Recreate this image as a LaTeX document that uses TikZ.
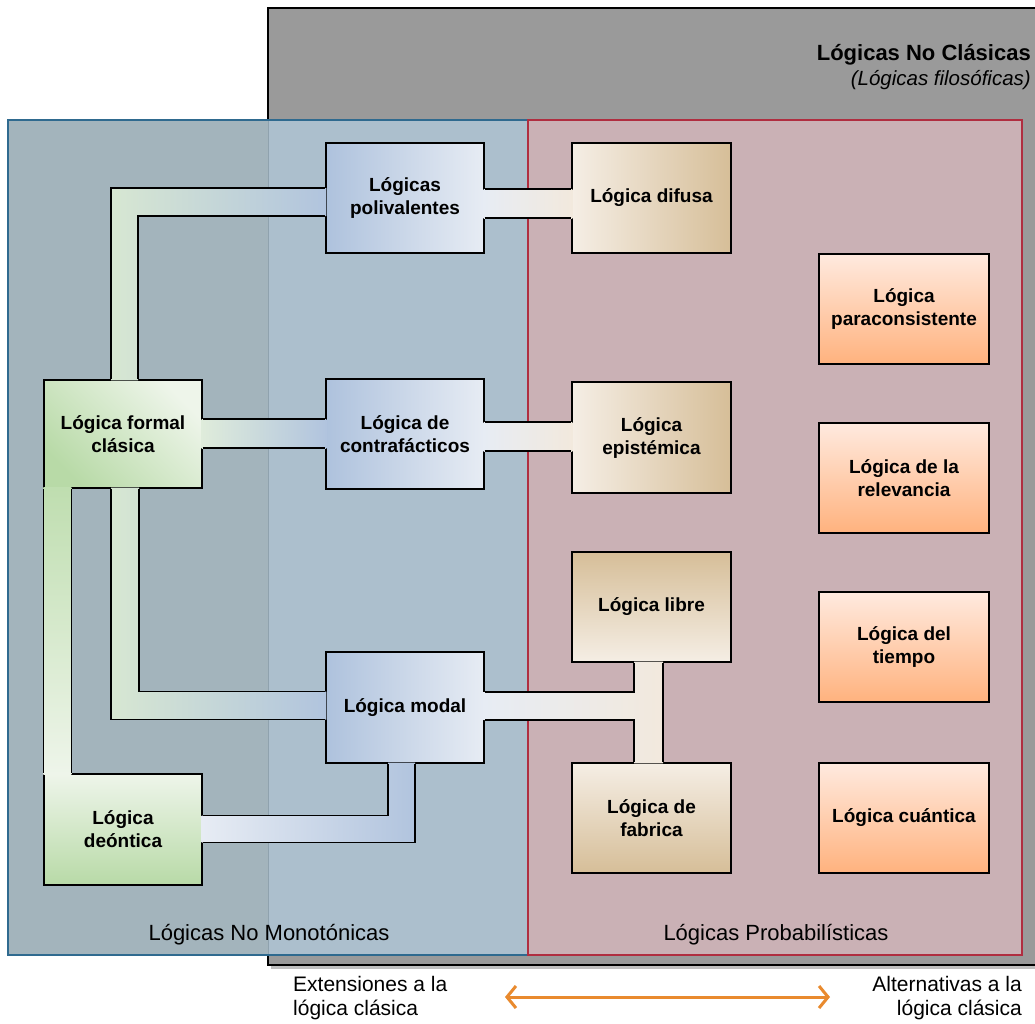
\documentclass[tikz,border=0pt]{standalone}
\usepackage{fontspec}
\setmainfont{Liberation Sans}
\usetikzlibrary{calc,arrows.meta}
\definecolor{grayBg}{HTML}{9A9A9A}
\definecolor{blueBgL}{HTML}{A3B4BC}
\definecolor{blueBgR}{HTML}{ACBFCD}
\definecolor{blueLine}{HTML}{8FA2AE}
\definecolor{blueEdge}{HTML}{2F6A8F}
\definecolor{redBg}{HTML}{CAB1B5}
\definecolor{redEdge}{HTML}{B02E40}
\definecolor{gLight}{HTML}{EEF5EA}
\definecolor{gDark}{HTML}{B8DAA7}
\definecolor{gBand}{HTML}{D7E7D2}
\definecolor{bBlue}{HTML}{AEC2DD}
\definecolor{bLight}{HTML}{E7ECF4}
\definecolor{bBand}{HTML}{B1C4DE}
\definecolor{tLight}{HTML}{F5EEE5}
\definecolor{tDark}{HTML}{D6BE98}
\definecolor{tBand}{HTML}{F2E9DD}
\definecolor{oLight}{HTML}{FFEADF}
\definecolor{oDark}{HTML}{FFB27E}
\definecolor{arrowOr}{HTML}{E98A2E}
\begin{document}
\begin{tikzpicture}[x=1pt,y=-1pt,
  box/.style={draw=black, line width=1.3pt, minimum width=158pt, minimum height=110pt, inner sep=2pt, align=center, font=\fontsize{19}{23}\selectfont\bfseries},
  wbox/.style={box, minimum width=170pt},
  greenbox/.style={box, top color=gLight, bottom color=gDark},
  bluebox/.style={box, left color=bBlue, right color=bLight},
  tanLR/.style={box, left color=tLight, right color=tDark, minimum width=159pt},
  tanTop/.style={box, top color=tDark, bottom color=tLight, minimum width=159pt},
  tanBot/.style={box, top color=tLight, bottom color=tDark, minimum width=159pt},
  orbox/.style={wbox, top color=oLight, bottom color=oDark},
  edgeline/.style={draw=black, line width=1.3pt},
  lbl/.style={inner sep=0pt, font=\fontsize{21}{24}\selectfont},
  grouplbl/.style={inner sep=0pt, font=\fontsize{22}{26}\selectfont}
]
\useasboundingbox (0,0) rectangle (1035,1023);
\clip (0,0) rectangle (1035,1023);
\fill[white] (0,0) rectangle (1035,1023);

% containers
\fill[black, opacity=0.25] (271,12) rectangle (1045,969);
\fill[grayBg] (268,8) rectangle (1045,965);
\draw[black, line width=1.5pt] (1045,8) -- (268,8) -- (268,965) -- (1045,965);
\fill[blueBgL] (8,120) rectangle (528,955);
\fill[blueBgR] (268,120) rectangle (528,955);
\draw[blueLine, line width=1pt] (268,120) -- (268,955);
\draw[blueEdge, line width=1.5pt] (8,120) rectangle (528,955);
\fill[redBg] (528,120) rectangle (1022,955);
\draw[redEdge, line width=1.5pt] (528,120) rectangle (1022,955);

% titles
\node[inner sep=0pt, anchor=east, font=\fontsize{22}{26}\selectfont\bfseries] (title) at (1031,55) {Lógicas No Clásicas};
\node[inner sep=0pt, anchor=east, font=\fontsize{20.5}{24}\selectfont\itshape] (subtitle) at (1031,80) {(Lógicas filosóficas)};
\node[grouplbl] (nomono) at (269,935) {Lógicas No Monotónicas};
\node[grouplbl] (proba) at (776,935) {Lógicas Probabilísticas};

% boxes
\node[bluebox] (poli) at (405,198) {Lógicas\\polivalentes};
\node[tanLR] (difusa) at (651.5,198) {Lógica difusa};
\node[orbox] (para) at (904,309) {Lógica\\paraconsistente};
\node[greenbox, shading angle=-45, minimum height=108pt] (formal) at (123,434) {Lógica formal\\clásica};
\node[bluebox] (contra) at (405,434) {Lógica de\\contrafácticos};
\node[tanLR, minimum height=111pt] (epist) at (651.5,437.5) {Lógica\\epistémica};
\node[orbox] (relev) at (904,478) {Lógica de la\\relevancia};
\node[tanTop] (libre) at (651.5,607) {Lógica libre};
\node[bluebox, minimum height=111pt] (modal) at (405,707.5) {Lógica modal};
\node[orbox] (tiempo) at (904,647) {Lógica del\\tiempo};
\node[tanBot] (fabrica) at (651.5,818) {Lógica de\\fabrica};
\node[orbox] (cuantica) at (904,818) {Lógica cuántica};
\node[greenbox, minimum height=111pt] (deontica) at (123,829.5) {Lógica\\deóntica};

% connector formal -> poli
\fill[left color=gBand, right color=bBand] ($(formal.north)+(-12,1)$) |- ($(poli.west)+(1,-10)$) -- ($(poli.west)+(1,18)$) -| ($(formal.north)+(15,1)$) -- cycle;
\draw[edgeline] ($(formal.north)+(-12,0)$) |- ($(poli.west)+(0,-10)$);
\draw[edgeline] ($(poli.west)+(0,18)$) -| ($(formal.north)+(15,0)$);

% connector formal -> contra
\fill[left color=gBand!80!white, right color=bBand] ($(formal.east)+(-1,-15)$) rectangle ($(contra.west)+(1,14)$);
\draw[edgeline] ($(formal.east)+(0,-15)$) -- ($(contra.west)+(0,-15)$);
\draw[edgeline] ($(formal.east)+(0,14)$) -- ($(contra.west)+(0,14)$);

% connector formal -> modal
\fill[left color=gBand, right color=bBand] ($(formal.south)+(-12,-1)$) |- ($(modal.west)+(1,12)$) -- ($(modal.west)+(1,-16)$) -| ($(formal.south)+(16,-1)$) -- cycle;
\draw[edgeline] ($(formal.south)+(-12,0)$) |- ($(modal.west)+(0,12)$);
\draw[edgeline] ($(modal.west)+(0,-16)$) -| ($(formal.south)+(16,0)$);

% connector formal -> deontica
\fill[top color=gDark!90!white, bottom color=gLight] ($(formal.south west)+(0,-1)$) rectangle ($(deontica.north west)+(28,1)$);
\draw[edgeline] (formal.south west) -- (deontica.north west);
\draw[edgeline] ($(formal.south west)+(28,0)$) -- ($(deontica.north west)+(28,0)$);

% connector deontica -> modal
\fill[left color=bLight, right color=bBand] ($(deontica.east)+(-1,-14)$) -| ($(modal.south)+(-17,-1)$) -- ($(modal.south)+(10,-1)$) |- ($(deontica.east)+(-1,13)$) -- cycle;
\draw[edgeline] ($(deontica.east)+(0,-14)$) -| ($(modal.south)+(-17,0)$);
\draw[edgeline] ($(modal.south)+(10,0)$) |- ($(deontica.east)+(0,13)$);

% connector poli -> difusa
\fill[left color=bLight, right color=tBand] ($(poli.east)+(-1,-9)$) rectangle ($(difusa.west)+(1,20)$);
\draw[edgeline] ($(poli.east)+(0,-9)$) -- ($(difusa.west)+(0,-9)$);
\draw[edgeline] ($(poli.east)+(0,20)$) -- ($(difusa.west)+(0,20)$);

% connector contra -> epist
\fill[left color=bLight, right color=tBand] ($(contra.east)+(-1,-12)$) rectangle ($(epist.west)+(1,13.5)$);
\draw[edgeline] ($(contra.east)+(0,-12)$) -- ($(epist.west)+(0,-15.5)$);
\draw[edgeline] ($(contra.east)+(0,17)$) -- ($(epist.west)+(0,13.5)$);

% connector modal -> libre / fabrica
\fill[left color=bLight, right color=tBand] ($(modal.east)+(-1,-15.5)$) -| ($(libre.south)+(-17.5,-1)$) -- ($(libre.south)+(11.5,-1)$) -- ($(fabrica.north)+(11.5,1)$) -- ($(fabrica.north)+(-17.5,1)$) |- ($(modal.east)+(-1,12.5)$) -- cycle;
\draw[edgeline] ($(modal.east)+(0,-15.5)$) -| ($(libre.south)+(-17.5,0)$);
\draw[edgeline] ($(libre.south)+(11.5,0)$) -- ($(fabrica.north)+(11.5,0)$);
\draw[edgeline] ($(fabrica.north)+(-17.5,0)$) |- ($(modal.east)+(0,12.5)$);

% bottom
\node[lbl, anchor=north west, align=left] (ext) at (293,976) {Extensiones a la\\lógica clásica};
\node[lbl, anchor=north east, align=right] (alt) at (1022,976) {Alternativas a la\\lógica clásica};
\coordinate (arrL) at (505,997);
\coordinate (arrR) at (830,997);
\draw[arrowOr, line width=3pt, {Straight Barb[length=9pt,width=22pt]}-{Straight Barb[length=9pt,width=22pt]}] (arrL) -- (arrR);
\end{tikzpicture}
\end{document}
